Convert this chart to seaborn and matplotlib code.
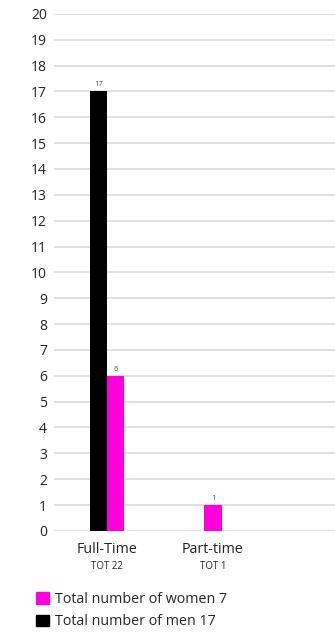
import pandas as pd
import numpy as np
import matplotlib.pyplot as plt
import seaborn as sns

# chart data
categories = ['Full-Time', 'Part-time']
totals = ['TOT 22', 'TOT 1']
women = [6, 1]
men = [17, 0]
series_names = ['Total number of women 7', 'Total number of men 17']
colors = {'Total number of women 7': '#ff00dd', 'Total number of men 17': '#000000'}

sns.set_style('white')
plt.rcParams['font.family'] = ['Open Sans', 'DejaVu Sans']

# build long table; a category with a single non-zero series gets a centred bar
bar_w = 0.162
rows = []
for i, cat in enumerate(categories):
    present = [(s, v) for s, v in ((series_names[1], men[i]), (series_names[0], women[i])) if v > 0]
    n = len(present)
    for j, (s, v) in enumerate(present):
        rows.append({'pos': i + (j - (n - 1) / 2) * bar_w, 'value': v, 'series': s})
df = pd.DataFrame(rows)

fig = plt.figure(figsize=(3.35, 6.32), dpi=100)
ax = fig.add_axes([0.161, 0.16, 0.839, 0.818])

sns.barplot(data=df, x='pos', y='value', hue='series', hue_order=series_names,
            palette=colors, native_scale=True, dodge=False, width=1.0,
            saturation=1, legend=False, linewidth=0, ax=ax)

for _, r in df.iterrows():
    ax.text(r['pos'], r['value'] + 0.12, str(int(r['value'])), ha='center', va='bottom',
            fontsize=5.5, color='#444444')

ax.set_ylim(0, 20)
ax.set_xlim(-0.5, 2.15)
ax.set_yticks(range(0, 21))
ax.yaxis.grid(True, color='#dddddd', linewidth=1.3)
ax.set_axisbelow(True)
for sp in ax.spines.values():
    sp.set_visible(False)
ax.tick_params(axis='y', length=0, pad=5, labelsize=10, labelcolor='#222222')
ax.set_xticks(range(len(categories)))
ax.set_xticklabels(categories, fontsize=10.3, color='#222222')
ax.tick_params(axis='x', length=0, pad=8)
ax.set_xlabel('')
ax.set_ylabel('')

trans = ax.get_xaxis_transform()
for i, t in enumerate(totals):
    ax.text(i, -0.058, t, transform=trans, ha='center', va='top', fontsize=7, color='#222222')

handles = [plt.Rectangle((0, 0), 1, 1, color=colors[s]) for s in series_names]
fig.legend(handles, series_names, loc='upper left', bbox_to_anchor=(0.108, 0.064),
           frameon=False, fontsize=10.3, handlelength=0.9, handleheight=0.9,
           handletextpad=0.4, labelspacing=0.55, borderaxespad=0, borderpad=0)

fig.savefig('out.png', dpi=100)
